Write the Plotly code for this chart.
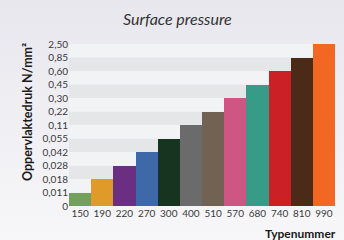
import plotly.graph_objects as go

# ---- data ----
types = ["150", "190", "220", "270", "300", "400", "510", "570", "680", "740", "810", "990"]
pressure_levels = ["0", "0,011", "0,018", "0,028", "0,042", "0,055", "0,11",
                   "0,22", "0,30", "0,45", "0,60", "0,85", "2,50"]
pressure = ["0,011", "0,018", "0,028", "0,042", "0,055", "0,11",
            "0,22", "0,30", "0,45", "0,60", "0,85", "2,50"]
bar_colors = ["#74a05e", "#e09a2a", "#6a2f80", "#3e68a8", "#173420", "#6b6b6b",
              "#726253", "#cf5583", "#389b87", "#cc2027", "#4b2a17", "#f26722"]

# positions of each bar on the (equally spaced) pressure scale
y_pos = [pressure_levels.index(p) for p in pressure]
n_levels = len(pressure_levels)

W, H = 344, 240
L, R, T, B = 69, 9, 44, 34
ph = H - T - B

fig = go.Figure()
fig.add_trace(go.Bar(
    x=types, y=y_pos,
    marker=dict(color=bar_colors, line=dict(width=0)),
    width=1.0, hoverinfo="skip",
))

shapes = []
# background gradient (paper)
n_str = 30
top_c = (0xe8, 0xe7, 0xee)
bot_c = (0xf7, 0xf7, 0xf9)
y_lo = -B / ph
y_hi = 1 + T / ph
for i in range(n_str):
    f = i / (n_str - 1)
    c = tuple(round(bot_c[k] + (top_c[k] - bot_c[k]) * f) for k in range(3))
    y0 = y_lo + (y_hi - y_lo) * i / n_str
    y1 = y_lo + (y_hi - y_lo) * (i + 1) / n_str + 0.002
    shapes.append(dict(type="rect", xref="paper", yref="paper", x0=-1, x1=2,
                       y0=y0, y1=y1, fillcolor="rgb(%d,%d,%d)" % c,
                       line=dict(width=0), layer="below"))
# alternating bands in plot area
for k in range(n_levels - 1):
    col = "#e5e6e8" if (k % 2 == 0) else "#f2f3f5"
    shapes.append(dict(type="rect", xref="paper", yref="y", x0=0, x1=1,
                       y0=k, y1=k + 1, fillcolor=col, line=dict(width=0),
                       layer="below"))

fig.update_layout(
    width=W, height=H,
    margin=dict(l=L, r=R, t=T, b=B, pad=0),
    paper_bgcolor="#f0eff3",
    plot_bgcolor="rgba(0,0,0,0)",
    bargap=0,
    showlegend=False,
    font=dict(family="Lato", color="#3a3a3a", size=10),
    shapes=shapes,
    xaxis=dict(type="category", range=[-0.5, len(types) - 0.5],
               showgrid=False, zeroline=False, showline=False, ticks="",
               tickfont=dict(size=10, color="#3a3a3a")),
    yaxis=dict(range=[0, n_levels - 1], tickmode="array",
               tickvals=list(range(n_levels)), ticktext=pressure_levels,
               showgrid=False, zeroline=False, showline=False, ticks="",
               tickfont=dict(size=10, color="#3a3a3a")),
    annotations=[
        dict(text="<i>Surface pressure</i>", xref="paper", yref="paper",
             x=(177 - L) / (W - L - R), y=1 + (T - 19) / ph,
             xanchor="center", yanchor="middle", showarrow=False,
             font=dict(size=16, color="#333333", family="Lato")),
        dict(text="<b>Oppervlaktedruk N/mm²</b>", xref="paper", yref="paper",
             x=(27 - L) / (W - L - R), y=1 - (112 - T) / ph,
             xanchor="center", yanchor="middle", textangle=-90, showarrow=False,
             font=dict(size=12.5, color="#1a1a1a", family="Lato")),
        dict(text="<b>Typenummer</b>", xref="paper", yref="paper",
             x=(338 - L) / (W - L - R), y=-(233 - (H - B)) / ph,
             xanchor="right", yanchor="middle", showarrow=False,
             font=dict(size=12, color="#1a1a1a", family="Lato")),
    ],
)

fig.write_html("out.html",
               config={"displayModeBar": False},
               post_script="document.body.style.margin='0';document.body.style.padding='0';")
